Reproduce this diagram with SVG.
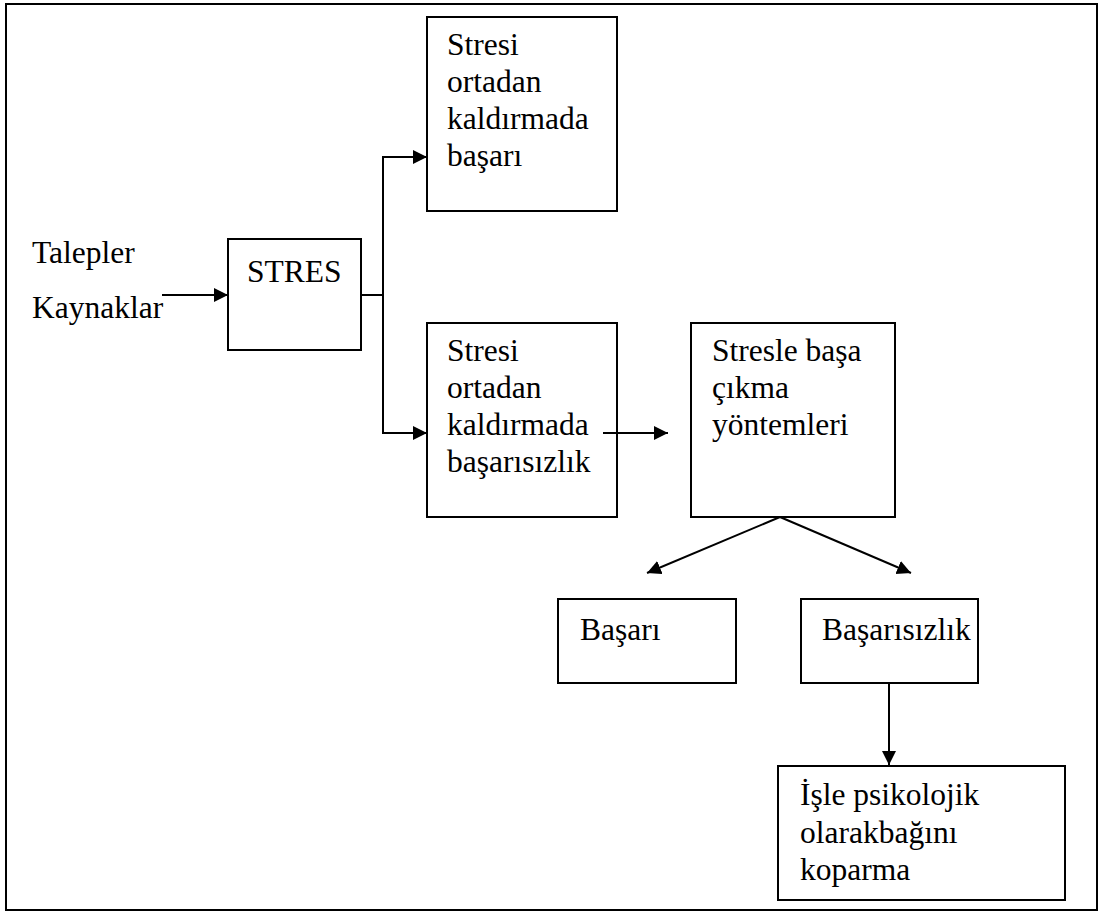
<svg xmlns="http://www.w3.org/2000/svg" width="1103" height="919" viewBox="0 0 1103 919">
<style>
.box{fill:#fff;stroke:#000;stroke-width:2}
.t{font-family:"Liberation Serif","Times New Roman",serif;font-size:31.5px;fill:#000}
.c{fill:none;stroke:#000;stroke-width:2}
</style>
<defs>
<marker id="ah" markerUnits="userSpaceOnUse" markerWidth="15" markerHeight="15" refX="14" refY="7" orient="auto">
<path d="M0,0 L14,7 L0,14 z" fill="#000"/>
</marker>
</defs>
<rect x="0" y="0" width="1103" height="919" fill="#fff"/>
<rect x="6" y="4" width="1091" height="906" fill="none" stroke="#000" stroke-width="2"/>
<g id="inputs">
<text class="t" x="32" y="263">Talepler</text>
<text class="t" x="32" y="318">Kaynaklar</text>
</g>
<g id="stres">
<rect class="box" x="228" y="239" width="133" height="111"/>
<text class="t" x="247" y="282">STRES</text>
</g>
<g id="basari-top">
<rect class="box" x="427" y="17" width="190" height="194"/>
<text class="t" x="447" y="55">Stresi</text>
<text class="t" x="447" y="92">ortadan</text>
<text class="t" x="447" y="129">kaldırmada</text>
<text class="t" x="447" y="166">başarı</text>
</g>
<g id="basarisizlik-mid">
<rect class="box" x="427" y="323" width="190" height="194"/>
<text class="t" x="447" y="361">Stresi</text>
<text class="t" x="447" y="398">ortadan</text>
<text class="t" x="447" y="435">kaldırmada</text>
<text class="t" x="447" y="472">başarısızlık</text>
</g>
<g id="yontemler">
<rect class="box" x="691" y="323" width="204" height="194"/>
<text class="t" x="712" y="361">Stresle başa</text>
<text class="t" x="712" y="398">çıkma</text>
<text class="t" x="712" y="435">yöntemleri</text>
</g>
<g id="basari">
<rect class="box" x="558" y="599" width="178" height="84"/>
<text class="t" x="580" y="640">Başarı</text>
</g>
<g id="basarisizlik">
<rect class="box" x="801" y="599" width="177" height="84"/>
<text class="t" x="822" y="640">Başarısızlık</text>
</g>
<g id="kopma">
<rect class="box" x="778" y="766" width="287" height="134"/>
<text class="t" x="800" y="805">İşle psikolojik</text>
<text class="t" x="800" y="843">olarakbağını</text>
<text class="t" x="800" y="880">koparma</text>
</g>
<g id="connectors">
<line class="c" x1="162" y1="295" x2="228" y2="295" marker-end="url(#ah)"/>
<line class="c" x1="361" y1="295" x2="383" y2="295"/>
<polyline class="c" points="427,157 383,157 383,433 427,433" marker-end="url(#ah)"/>
<line class="c" x1="383" y1="157" x2="427" y2="157" marker-end="url(#ah)"/>
<line class="c" x1="603" y1="433" x2="668" y2="433" marker-end="url(#ah)"/>
<line class="c" x1="780" y1="517" x2="647" y2="573" marker-end="url(#ah)"/>
<line class="c" x1="780" y1="517" x2="911" y2="573" marker-end="url(#ah)"/>
<line class="c" x1="889" y1="683" x2="889" y2="765" marker-end="url(#ah)"/>
</g>
</svg>
